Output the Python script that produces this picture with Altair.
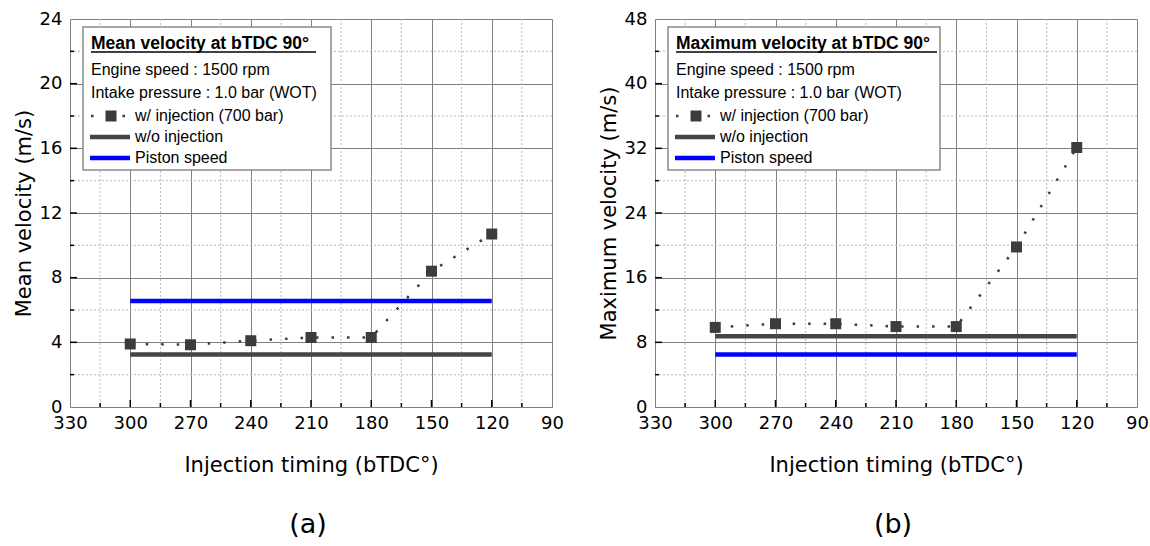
import altair as alt
import pandas as pd

# ---------------- data ----------------
timing = [300, 270, 240, 210, 180, 150, 120]
mean_w_inj = [3.9, 3.85, 4.1, 4.3, 4.3, 8.4, 10.7]
max_w_inj = [9.85, 10.3, 10.3, 9.95, 9.95, 19.8, 32.1]
span = [300, 120]
mean_wo_inj = 3.25
max_wo_inj = 8.75
piston_mean = 6.55
piston_max = 6.5

x_labels = [330, 300, 270, 240, 210, 180, 150, 120, 90]
x_major_inner = [300, 270, 240, 210, 180, 150, 120]
x_minor = [315, 285, 255, 225, 195, 165, 135, 105]

mean_y_labels = [0, 4, 8, 12, 16, 20, 24]
mean_y_major_inner = [4, 8, 12, 16, 20]
mean_y_minor = [2, 6, 10, 14, 18, 22]

max_y_labels = [0, 8, 16, 24, 32, 40, 48]
max_y_major_inner = [8, 16, 24, 32, 40]
max_y_minor = [4, 12, 20, 28, 36, 44]

info_lines = ["Engine speed : 1500 rpm", "Intake pressure : 1.0 bar (WOT)"]
series_names = ["w/ injection (700 bar)", "w/o injection", "Piston speed"]

W, H = 482, 388
DARK = "#3c3c3c"
LINEGRAY = "#454545"
BLUE = "#0000ff"
TICK_FONT = "DejaVu Sans"
LEG_FONT = "Liberation Sans"

one = pd.DataFrame({"k": [0]})


def panel(yvals, wo_val, piston_val, ymax, ylabels, ymaj, ymin, ytitle, legtitle, box_right, title_end, caption):
    xs = alt.Scale(domain=[90, 330], reverse=True, nice=False, zero=False)
    ys = alt.Scale(domain=[0, ymax], nice=False, zero=False)
    xaxis = alt.Axis(values=x_labels, grid=True, gridColor="#808080", gridWidth=1,
                     ticks=False, domain=False, labelFlush=False, labelOverlap=False,
                     labelFont=TICK_FONT, labelFontSize=18, labelColor="black", labelPadding=7,
                     titleFont=TICK_FONT, titleFontSize=21, titleFontWeight="normal",
                     titleColor="black", titlePadding=22)
    yaxis = alt.Axis(values=ylabels, grid=True, gridColor="#808080", gridWidth=1,
                     ticks=False, domain=False, labelFlush=False, labelOverlap=False,
                     labelFont=TICK_FONT, labelFontSize=18, labelColor="black", labelPadding=8,
                     titleFont=TICK_FONT, titleFontSize=21, titleFontWeight="normal",
                     titleColor="black", titlePadding=5)

    def X(field):
        return alt.X(field, type="quantitative", scale=xs, axis=xaxis, title="Injection timing (bTDC°)")

    def Y(field):
        return alt.Y(field, type="quantitative", scale=ys, axis=yaxis, title=ytitle)

    pts = pd.DataFrame({"t": timing, "v": yvals})
    hl = pd.DataFrame({"a": [span[0]], "b": [span[1]], "wo": [wo_val], "pi": [piston_val]})

    layers = []
    # minor dotted grid
    layers.append(alt.Chart(pd.DataFrame({"m": x_minor})).mark_rule(
        color="#b8b8b8", strokeDash=[2, 2], strokeWidth=1).encode(x=X("m")))
    layers.append(alt.Chart(pd.DataFrame({"m": ymin})).mark_rule(
        color="#b8b8b8", strokeDash=[2, 2], strokeWidth=1).encode(y=Y("m")))
    # horizontal reference lines
    layers.append(alt.Chart(hl).mark_rule(color=LINEGRAY, strokeWidth=4.5, strokeCap="butt").encode(
        x=X("a"), x2="b", y=Y("wo")))
    layers.append(alt.Chart(hl).mark_rule(color=BLUE, strokeWidth=4.5, strokeCap="butt").encode(
        x=X("a"), x2="b", y=Y("pi")))
    # dotted data line + squares
    layers.append(alt.Chart(pts).mark_line(color=DARK, strokeWidth=2.5, strokeDash=[2.5, 13]).encode(
        x=X("t"), y=Y("v")))
    layers.append(alt.Chart(pts).mark_square(color=DARK, size=121, opacity=1, filled=True).encode(
        x=X("t"), y=Y("v")))
    # inward ticks
    layers.append(alt.Chart(pd.DataFrame({"m": x_major_inner})).mark_rule(color="black", strokeWidth=1.5).encode(
        x=X("m"), y=alt.value(H), y2=alt.value(H - 7)))
    layers.append(alt.Chart(pd.DataFrame({"m": x_minor})).mark_rule(color="black", strokeWidth=1.5).encode(
        x=X("m"), y=alt.value(H), y2=alt.value(H - 4)))
    layers.append(alt.Chart(pd.DataFrame({"m": ymaj})).mark_rule(color="black", strokeWidth=1.5).encode(
        y=Y("m"), x=alt.value(0), x2=alt.value(7)))
    layers.append(alt.Chart(pd.DataFrame({"m": ymin})).mark_rule(color="black", strokeWidth=1.5).encode(
        y=Y("m"), x=alt.value(0), x2=alt.value(4)))

    # legend box
    layers.append(alt.Chart(one).mark_rect(fill="white", stroke="#8a8a8a", strokeWidth=1.5).encode(
        x=alt.value(13), x2=alt.value(box_right), y=alt.value(8), y2=alt.value(151)))
    layers.append(alt.Chart(one).mark_text(font=LEG_FONT, fontSize=17.5, fontWeight="bold", align="left",
                                           baseline="alphabetic", color="black").encode(
        x=alt.value(21), y=alt.value(30), text=alt.value(legtitle)))
    layers.append(alt.Chart(one).mark_rule(color="black", strokeWidth=1.5).encode(
        x=alt.value(21), x2=alt.value(title_end), y=alt.value(33)))
    for i, s in enumerate(info_lines):
        layers.append(alt.Chart(one).mark_text(font=LEG_FONT, fontSize=16, align="left",
                                               baseline="alphabetic", color="black").encode(
            x=alt.value(21), y=alt.value(56 + 23 * i), text=alt.value(s)))
    # legend symbols
    layers.append(alt.Chart(one).mark_rule(color=DARK, strokeWidth=2.5, strokeDash=[2.5, 29]).encode(
        x=alt.value(21), x2=alt.value(56), y=alt.value(97)))
    layers.append(alt.Chart(one).mark_square(color=DARK, size=121, opacity=1, filled=True).encode(
        x=alt.value(41), y=alt.value(97)))
    layers.append(alt.Chart(one).mark_rule(color=LINEGRAY, strokeWidth=4.5, strokeCap="butt").encode(
        x=alt.value(20), x2=alt.value(60), y=alt.value(118)))
    layers.append(alt.Chart(one).mark_rule(color=BLUE, strokeWidth=4.5, strokeCap="butt").encode(
        x=alt.value(20), x2=alt.value(60), y=alt.value(139)))
    for i, s in enumerate(series_names):
        layers.append(alt.Chart(one).mark_text(font=LEG_FONT, fontSize=16, align="left",
                                               baseline="middle", color="black").encode(
            x=alt.value(65), y=alt.value(97 + 21 * i), text=alt.value(s)))

    return alt.layer(*layers).properties(
        width=W, height=H,
        title=alt.TitleParams(caption, orient="bottom", anchor="middle", frame="group",
                              font=TICK_FONT, fontSize=27, fontWeight="normal", color="black",
                              offset=37, dx=-3))


left = panel(mean_w_inj, mean_wo_inj, piston_mean, 24, mean_y_labels, mean_y_major_inner, mean_y_minor,
             "Mean velocity (m/s)", "Mean velocity at bTDC 90°", 261, 246, "(a)")
right = panel(max_w_inj, max_wo_inj, piston_max, 48, max_y_labels, max_y_major_inner, max_y_minor,
              "Maximum velocity (m/s)", "Maximum velocity at bTDC 90°", 285, 282, "(b)")

chart = alt.hconcat(left, right, spacing=33).properties(
    padding={"left": 12, "top": 9, "right": 0, "bottom": 0}
).configure_view(stroke="black", strokeWidth=2).configure(background="white")

chart.save("out.html", embed_options={"renderer": "svg", "actions": False})
